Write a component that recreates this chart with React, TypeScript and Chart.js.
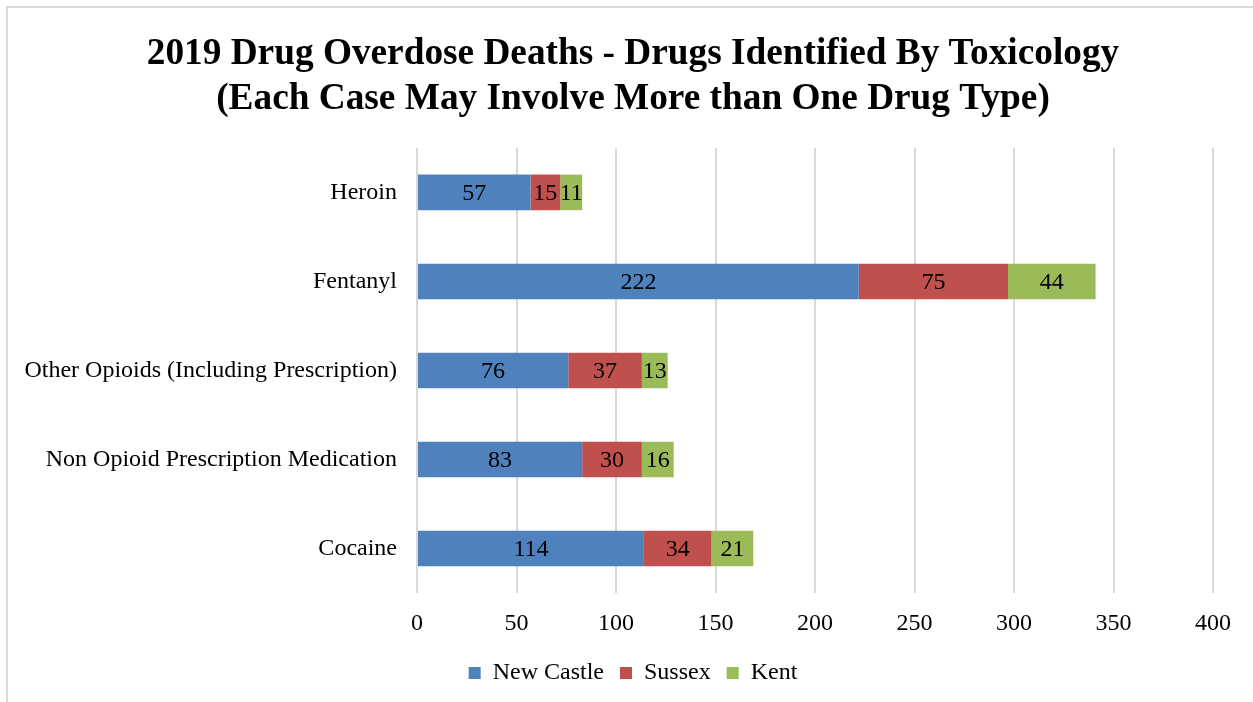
import React, { useEffect, useRef } from "react";
import { Chart, registerables } from "chart.js";

Chart.register(...registerables);

const categories = [
  "Heroin",
  "Fentanyl",
  "Other Opioids (Including Prescription)",
  "Non Opioid Prescription Medication",
  "Cocaine",
];
const newCastle = [57, 222, 76, 83, 114];
const sussex = [15, 75, 37, 30, 34];
const kent = [11, 44, 13, 16, 21];
const seriesNames = ["New Castle", "Sussex", "Kent"];
const seriesColors = ["#4F81BD", "#C0504D", "#9BBB59"];
const titleLines = [
  "2019 Drug Overdose Deaths - Drugs Identified By Toxicology",
  "(Each Case May Involve More than One Drug Type)",
];

const SERIF = "'Liberation Serif', 'Times New Roman', serif";

// Writes each segment's value in the middle of its bar piece.
const segmentLabels = {
  id: "segmentLabels",
  afterDatasetsDraw(chart: any) {
    const ctx = chart.ctx;
    ctx.save();
    ctx.font = `24px ${SERIF}`;
    ctx.fillStyle = "#000";
    ctx.textAlign = "center";
    ctx.textBaseline = "middle";
    chart.data.datasets.forEach((ds: any, di: number) => {
      const meta = chart.getDatasetMeta(di);
      meta.data.forEach((bar: any, i: number) => {
        const cx = (bar.x + bar.base) / 2;
        ctx.fillText(String(ds.data[i]), cx, bar.y + 1);
      });
    });
    ctx.restore();
  },
};

// Centres the title and legend over the framed area rather than the canvas.
const FRAME_INSET = 53;
const centreBlocks = {
  id: "centreBlocks",
  afterLayout(chart: any) {
    if (chart.titleBlock) chart.titleBlock.left += FRAME_INSET;
    if (chart.legend) chart.legend.left += FRAME_INSET;
  },
};

export default function App() {
  const canvasRef = useRef<HTMLCanvasElement>(null);

  useEffect(() => {
    const canvas = canvasRef.current;
    if (!canvas) return;
    const values = [newCastle, sussex, kent];
    const chart = new Chart(canvas, {
      type: "bar",
      data: {
        labels: categories,
        datasets: seriesNames.map((name, i) => ({
          label: name,
          data: values[i],
          backgroundColor: seriesColors[i],
          borderWidth: 0,
          barPercentage: 0.4,
          categoryPercentage: 1,
        })),
      },
      options: {
        indexAxis: "y",
        animation: false,
        responsive: false,
        layout: { padding: { left: 0, right: 40, top: 0, bottom: 7 } },
        scales: {
          x: {
            stacked: true,
            min: 0,
            max: 400,
            ticks: {
              stepSize: 50,
              color: "#000",
              font: { family: SERIF, size: 24 },
              padding: 16,
              maxRotation: 0,
            },
            grid: { color: "#d9d9d9", lineWidth: 2, drawTicks: false },
            border: { display: false },
            afterFit(scale: any) {
              scale.height = 52;
            },
          },
          y: {
            stacked: true,
            ticks: {
              color: "#000",
              font: { family: SERIF, size: 24 },
              padding: 20,
            },
            grid: { display: false, drawTicks: false },
            border: { display: false },
            afterFit(scale: any) {
              scale.width = 417;
            },
          },
        },
        plugins: {
          title: {
            display: true,
            text: titleLines,
            color: "#000",
            font: { family: SERIF, size: 37.3, weight: "bold", lineHeight: 1.2 },
            padding: { top: 32, bottom: 26.4 },
          },
          legend: {
            position: "bottom",
            labels: {
              color: "#000",
              font: { family: SERIF, size: 24 },
              boxWidth: 12,
              boxHeight: 12,
              padding: 16,
            },
          },
          tooltip: { enabled: false },
        },
      },
      plugins: [segmentLabels, centreBlocks],
    });
    return () => chart.destroy();
  }, []);

  return (
    <div
      style={{
        position: "fixed",
        left: 0,
        top: 0,
        width: 1253,
        height: 702,
        overflow: "hidden",
        background: "#fff",
      }}
    >
      <div
        style={{
          position: "absolute",
          left: 6,
          top: 6,
          width: 1400,
          height: 900,
          borderLeft: "2px solid #d9d9d9",
          borderTop: "2px solid #d9d9d9",
        }}
      />
      <canvas
        ref={canvasRef}
        width={1253}
        height={702}
        style={{ position: "absolute", left: 0, top: 0, width: 1253, height: 702 }}
      />
    </div>
  );
}
